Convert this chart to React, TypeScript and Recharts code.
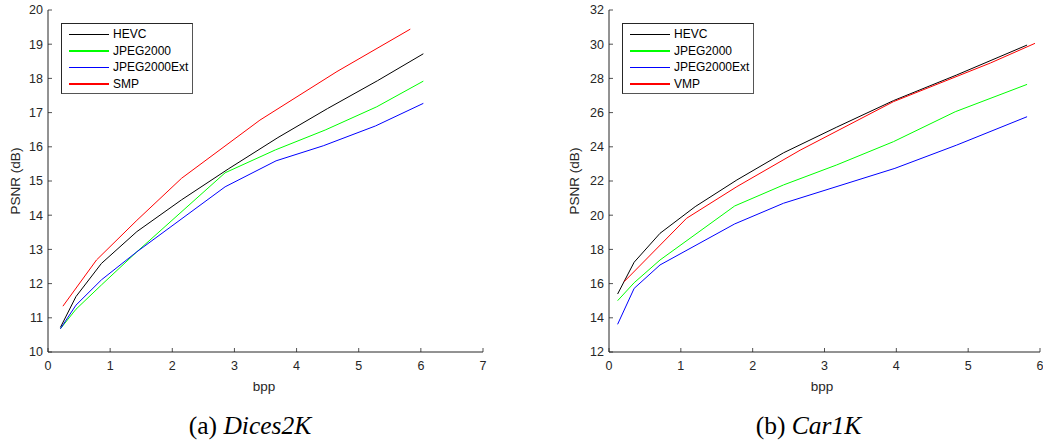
import { LineChart, Line, XAxis, YAxis, Legend } from 'recharts';

// (a) Dices2K
const hevcA_bpp = [0.2, 0.45, 0.86, 1.43, 2.15, 2.9, 3.7, 4.5, 5.3, 6.04];
const hevcA_psnr = [10.72, 11.62, 12.59, 13.52, 14.45, 15.35, 16.27, 17.12, 17.93, 18.72];
const j2kA_bpp = [0.2, 0.45, 0.86, 1.43, 2.85, 3.66, 4.46, 5.29, 6.04];
const j2kA_psnr = [10.68, 11.25, 11.96, 12.93, 15.24, 15.91, 16.49, 17.17, 17.92];
const j2kExtA_bpp = [0.2, 0.45, 0.86, 1.43, 2.85, 3.67, 4.43, 5.27, 6.04];
const j2kExtA_psnr = [10.68, 11.37, 12.11, 12.93, 14.83, 15.59, 16.03, 16.61, 17.27];
const smpA_bpp = [0.24, 0.78, 1.43, 2.15, 3.41, 4.65, 5.83];
const smpA_psnr = [11.34, 12.69, 13.85, 15.08, 16.78, 18.2, 19.44];

// (b) Car1K
const hevcB_bpp = [0.12, 0.35, 0.71, 1.2, 1.78, 2.43, 3.17, 3.96, 4.84, 5.82];
const hevcB_psnr = [15.39, 17.25, 18.94, 20.5, 22.06, 23.65, 25.15, 26.7, 28.2, 29.95];
const j2kB_bpp = [0.12, 0.35, 0.71, 1.75, 2.43, 3.17, 3.96, 4.82, 5.82];
const j2kB_psnr = [15.0, 16.05, 17.38, 20.54, 21.77, 22.94, 24.3, 26.05, 27.65];
const j2kExtB_bpp = [0.12, 0.35, 0.71, 1.75, 2.43, 3.98, 4.84, 5.82];
const j2kExtB_psnr = [13.62, 15.72, 17.09, 19.49, 20.7, 22.74, 24.1, 25.76];
const vmpB_bpp = [0.21, 1.08, 1.78, 2.66, 3.96, 5.31, 5.93];
const vmpB_psnr = [16.11, 19.82, 21.67, 23.8, 26.64, 28.9, 30.05];

const xTicksA = [0, 1, 2, 3, 4, 5, 6, 7];
const yTicksA = [10, 11, 12, 13, 14, 15, 16, 17, 18, 19, 20];
const xTicksB = [0, 1, 2, 3, 4, 5, 6];
const yTicksB = [12, 14, 16, 18, 20, 22, 24, 26, 28, 30, 32];

const toRows = (xs: number[], ys: number[]) => xs.map((x, i) => ({ bpp: x, psnr: ys[i] }));

const AXIS = '#262626';
const FONT = '"Liberation Sans", Arial, Helvetica, sans-serif';

const XTick = (props: any) => {
  const { x, y, payload } = props;
  return (
    <g>
      <line x1={x} y1={y - 9} x2={x} y2={y - 13} stroke={AXIS} strokeWidth={0.8} />
      <text x={x} y={y} dy="0.71em" textAnchor="middle" fill={AXIS} fontSize={12.5} fontFamily={FONT}>
        {payload.value}
      </text>
    </g>
  );
};

const YTick = (props: any) => {
  const { x, y, payload } = props;
  return (
    <g>
      <line x1={x + 5} y1={y} x2={x + 9} y2={y} stroke={AXIS} strokeWidth={0.8} />
      <text x={x} y={y} dy="0.35em" textAnchor="end" fill={AXIS} fontSize={12.5} fontFamily={FONT}>
        {payload.value}
      </text>
    </g>
  );
};

const LegendBox = ({ items }: { items: { name: string; color: string }[] }) => (
  <div
    style={{
      border: '1px solid #262626',
      borderRightColor: '#555',
      borderBottomColor: '#555',
      background: '#fff',
      width: 132,
      height: 71,
      boxSizing: 'border-box',
      paddingTop: 2,
      fontFamily: FONT,
      fontSize: 12,
      color: '#000',
    }}
  >
    {items.map((it) => (
      <div key={it.name} style={{ display: 'flex', alignItems: 'center', height: 16.6 }}>
        <div style={{ width: 40, marginLeft: 7, height: 1.3, background: it.color }} />
        <span style={{ marginLeft: 4, lineHeight: '14px' }}>{it.name}</span>
      </div>
    ))}
  </div>
);

type Series = { name: string; color: string; rows: { bpp: number; psnr: number }[] };

function Panel({ series, xMax, yMin, yMax, xTicks, yTicks }: {
  series: Series[]; xMax: number; yMin: number; yMax: number; xTicks: number[]; yTicks: number[];
}) {
  const width = xMax === 7 ? 500 : 496;
  return (
    <LineChart width={width} height={390} margin={{ top: 10, right: 17, left: 8, bottom: 8 }}>
      <XAxis
        type="number"
        dataKey="bpp"
        domain={[0, xMax]}
        ticks={xTicks}
        allowDataOverflow
        height={30}
        stroke={AXIS}
        tickLine={false}
        tickSize={0}
        tickMargin={9}
        tick={<XTick />}
        interval={0}
      />
      <YAxis
        type="number"
        domain={[yMin, yMax]}
        ticks={yTicks}
        allowDataOverflow
        width={40}
        stroke={AXIS}
        tickLine={false}
        tickSize={0}
        tickMargin={5}
        tick={<YTick />}
        interval={0}
      />
      <Legend
        layout="vertical"
        align="center"
        verticalAlign="middle"
        wrapperStyle={{ left: 61, top: 23, width: 132, height: 71 }}
        content={() => <LegendBox items={series.map((s) => ({ name: s.name, color: s.color }))} />}
      />
      {series.map((s) => (
        <Line
          key={s.name}
          data={s.rows}
          dataKey="psnr"
          name={s.name}
          type="linear"
          stroke={s.color}
          strokeWidth={1}
          dot={false}
          activeDot={false}
          isAnimationActive={false}
        />
      ))}
    </LineChart>
  );
}

const seriesA: Series[] = [
  { name: 'HEVC', color: '#000000', rows: toRows(hevcA_bpp, hevcA_psnr) },
  { name: 'JPEG2000', color: '#00ff00', rows: toRows(j2kA_bpp, j2kA_psnr) },
  { name: 'JPEG2000Ext', color: '#0000ff', rows: toRows(j2kExtA_bpp, j2kExtA_psnr) },
  { name: 'SMP', color: '#ff0000', rows: toRows(smpA_bpp, smpA_psnr) },
];

const seriesB: Series[] = [
  { name: 'HEVC', color: '#000000', rows: toRows(hevcB_bpp, hevcB_psnr) },
  { name: 'JPEG2000', color: '#00ff00', rows: toRows(j2kB_bpp, j2kB_psnr) },
  { name: 'JPEG2000Ext', color: '#0000ff', rows: toRows(j2kExtB_bpp, j2kExtB_psnr) },
  { name: 'VMP', color: '#ff0000', rows: toRows(vmpB_bpp, vmpB_psnr) },
];

const labelStyle = {
  position: 'absolute' as const,
  fontFamily: FONT,
  fontSize: 13.5,
  color: AXIS,
  lineHeight: '16px',
  textAlign: 'center' as const,
  width: 100,
};

const captionStyle = {
  position: 'absolute' as const,
  fontFamily: '"Liberation Serif", "Times New Roman", serif',
  fontSize: 25.5,
  lineHeight: '25px',
  color: '#000',
  textAlign: 'center' as const,
  width: 300,
  top: 413,
};

export default function App() {
  return (
    <div
      style={{
        position: 'absolute',
        left: 0,
        top: 0,
        width: 1043,
        height: 442,
        overflow: 'hidden',
        background: '#fff',
      }}
    >
      <div style={{ position: 'absolute', left: 0, top: 0 }}>
        <Panel series={seriesA} xMax={7} yMin={10} yMax={20} xTicks={xTicksA} yTicks={yTicksA} />
      </div>
      <div style={{ position: 'absolute', left: 561, top: 0 }}>
        <Panel series={seriesB} xMax={6} yMin={12} yMax={32} xTicks={xTicksB} yTicks={yTicksB} />
      </div>

      <div style={{ ...labelStyle, left: 15.5 - 50, top: 173, transform: 'rotate(-90deg)' }}>PSNR (dB)</div>
      <div style={{ ...labelStyle, left: 575 - 50, top: 173, transform: 'rotate(-90deg)' }}>PSNR (dB)</div>
      <div style={{ ...labelStyle, left: 264 - 50, top: 379 }}>bpp</div>
      <div style={{ ...labelStyle, left: 822 - 50, top: 379 }}>bpp</div>

      <div style={{ ...captionStyle, left: 250 - 150 }}>
        (a) <i>Dices2K</i>
      </div>
      <div style={{ ...captionStyle, left: 808.5 - 150 }}>
        (b) <i>Car1K</i>
      </div>
    </div>
  );
}
